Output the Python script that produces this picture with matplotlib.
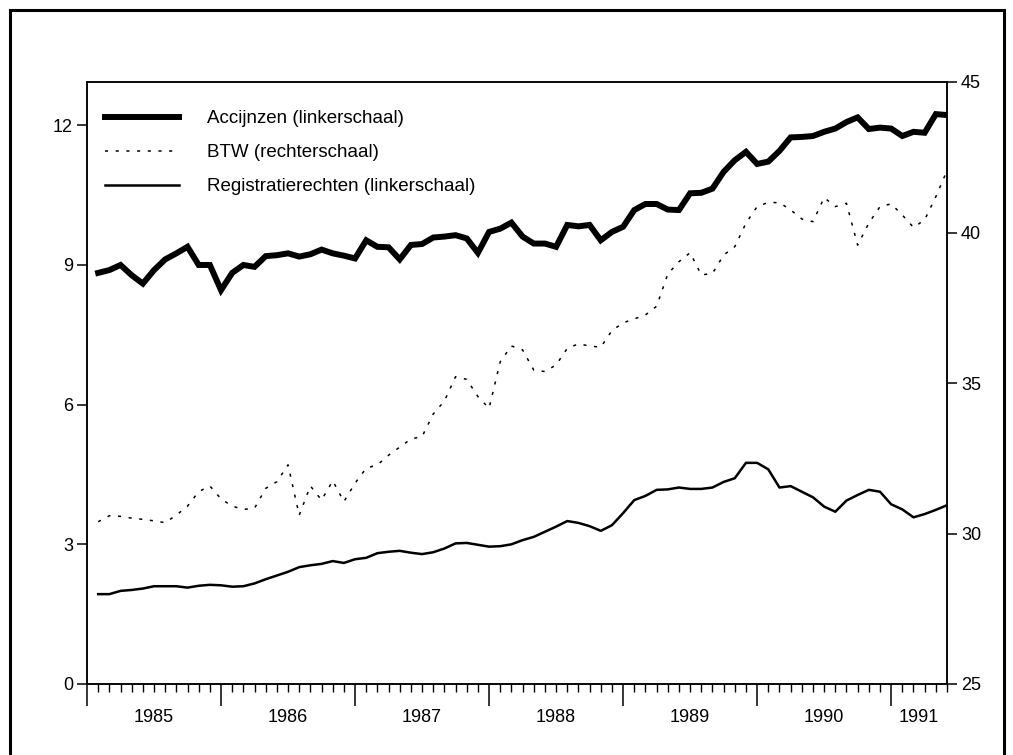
import matplotlib

matplotlib.use("Agg")
import matplotlib.pyplot as plt
import numpy as np
from matplotlib.patches import Rectangle

plt.rcParams["font.family"] = ["Liberation Sans", "DejaVu Sans"]

# monthly series
years = ["1985", "1986", "1987", "1988", "1989", "1990", "1991"]

accijnzen = [8.83, 8.89, 9.00, 8.78, 8.60, 8.89, 9.12, 9.25, 9.39, 9.00,
             9.00, 8.46, 8.83, 9.00, 8.96, 9.19, 9.21, 9.25, 9.18, 9.23,
             9.33, 9.25, 9.20, 9.14, 9.53, 9.39, 9.38, 9.12, 9.43, 9.45,
             9.59, 9.61, 9.64, 9.57, 9.26, 9.71, 9.78, 9.91, 9.61, 9.46,
             9.46, 9.39, 9.86, 9.83, 9.86, 9.53, 9.71, 9.82, 10.18, 10.31,
             10.31, 10.19, 10.18, 10.54, 10.55, 10.64, 11.00, 11.25, 11.43, 11.17,
             11.22, 11.45, 11.74, 11.75, 11.77, 11.86, 11.93, 12.07, 12.17, 11.92,
             11.95, 11.93, 11.77, 11.86, 11.84, 12.24, 12.22]

btw = [30.39, 30.59, 30.57, 30.51, 30.47, 30.42, 30.36, 30.61, 30.91, 31.39,
       31.58, 31.15, 30.91, 30.80, 30.84, 31.50, 31.72, 32.28, 30.61, 31.58,
       31.11, 31.75, 31.06, 31.67, 32.17, 32.28, 32.60, 32.87, 33.14, 33.22,
       33.97, 34.40, 35.21, 35.12, 34.55, 34.16, 35.71, 36.23, 36.10, 35.43,
       35.38, 35.60, 36.15, 36.30, 36.23, 36.19, 36.74, 37.00, 37.13, 37.26,
       37.55, 38.62, 39.03, 39.33, 38.59, 38.64, 39.25, 39.53, 40.31, 40.86,
       41.00, 40.99, 40.75, 40.45, 40.36, 41.16, 40.86, 40.97, 39.58, 40.31,
       40.86, 40.95, 40.58, 40.17, 40.42, 41.19, 42.05]

registratie = [1.93, 1.93, 2.00, 2.02, 2.05, 2.10, 2.10, 2.10, 2.07, 2.11,
               2.13, 2.12, 2.09, 2.10, 2.16, 2.25, 2.33, 2.41, 2.51, 2.55,
               2.58, 2.64, 2.60, 2.68, 2.71, 2.81, 2.84, 2.86, 2.82, 2.79,
               2.83, 2.91, 3.02, 3.03, 2.99, 2.95, 2.96, 3.00, 3.09, 3.16,
               3.27, 3.38, 3.50, 3.46, 3.39, 3.29, 3.41, 3.67, 3.95, 4.04,
               4.17, 4.18, 4.22, 4.19, 4.19, 4.22, 4.34, 4.42, 4.75, 4.75,
               4.61, 4.22, 4.25, 4.13, 4.01, 3.81, 3.70, 3.94, 4.06, 4.17,
               4.13, 3.86, 3.75, 3.58, 3.65, 3.74, 3.84]

labels = ["Accijnzen (linkerschaal)", "BTW (rechterschaal)",
          "Registratierechten (linkerschaal)"]

months = np.arange(len(accijnzen))
last = months[-1]
year_start = np.arange(-1, last, 12)
year_mid = [(s + min(s + 12, last)) / 2 for s in year_start]

fig = plt.figure(figsize=(10.13, 7.55), dpi=100)
ax = fig.add_axes([87 / 1013, 71 / 755, 860 / 1013, 602 / 755])
ax2 = ax.twinx()

l1, = ax.plot(months, accijnzen, color="black", lw=4.3,
              solid_joinstyle="miter", label=labels[0])
l3, = ax.plot(months, registratie, color="black", lw=1.8, label=labels[2])
l2, = ax2.plot(months, btw, color="black", lw=1.1,
               linestyle=(0, (2, 5)), label=labels[1])

ax.set_xlim(-1, last)
ax.set_ylim(0, 12.93)
ax2.set_ylim(25, 45)

ax.set_yticks([0, 3, 6, 9, 12])
ax2.set_yticks([25, 30, 35, 40, 45])
ax.set_xticks(year_start)
ax.set_xticks(np.arange(-1, last + 1), minor=True)
ax.tick_params(axis="x", which="major", direction="out", length=16,
               width=1.1, labelbottom=False)
ax.tick_params(axis="x", which="minor", direction="out", length=6, width=1.0)
ax.tick_params(axis="y", direction="out", length=7, width=1.1,
               labelsize=13, pad=3)
ax2.tick_params(axis="y", direction="out", length=7, width=1.1,
                labelsize=13, pad=3)

for sp in list(ax.spines.values()) + list(ax2.spines.values()):
    sp.set_linewidth(1.1)

for x, yr in zip(year_mid, years):
    ax.text(x, -33 / 602, yr, transform=ax.get_xaxis_transform(),
            ha="center", va="center", fontsize=13)

ax2.legend([l1, l2, l3], labels, loc="upper left",
           bbox_to_anchor=(0.021, 0.953), frameon=False, fontsize=13.5,
           handlelength=3.95, handletextpad=1.5, labelspacing=0.9,
           borderpad=0, borderaxespad=0)

# outer frame of the figure
fig.add_artist(Rectangle((10 / 1013, -0.02), 994 / 1013, 1.02 - 10 / 755,
                         transform=fig.transFigure, fill=False,
                         lw=2.2, color="black"))

fig.savefig("out.png", dpi=100)
